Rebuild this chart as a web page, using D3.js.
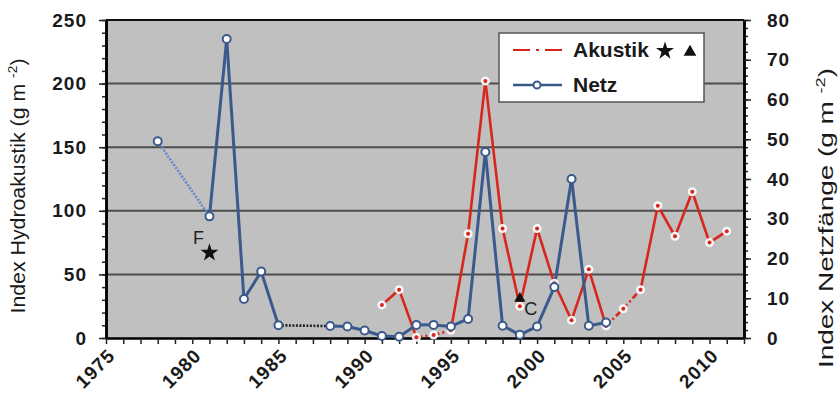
<!DOCTYPE html>
<html>
<head>
<meta charset="utf-8">
<script src="https://cdn.jsdelivr.net/npm/d3@7"></script>
<style>
  body { margin: 0; background: #fff; }
  svg { display: block; }
  text { font-family: "Liberation Sans", Arial, sans-serif; }
</style>
</head>
<body>
<div class="chart"></div>
<script>
// Netz (right axis, g m-2)
const netzYears = [1978, 1981, 1982, 1983, 1984, 1985, 1988, 1989, 1990, 1991, 1992, 1993, 1994, 1995, 1996, 1997, 1998, 1999, 2000, 2001, 2002, 2003, 2004];
const netzValues = [49.5, 30.6, 75.2, 9.8, 16.7, 3.2, 3.0, 2.9, 1.9, 0.5, 0.3, 3.3, 3.3, 2.9, 4.8, 46.8, 3.1, 0.8, 2.9, 12.8, 40.0, 3.1, 3.9];
// segments starting at these years are dotted (gaps in the series)
const netzDottedFrom = [1978, 1985];

// Akustik (left axis, g m-2)
const akustikYears = [1991, 1992, 1993, 1994, 1995, 1996, 1997, 1998, 1999, 2000, 2001, 2002, 2003, 2004, 2005, 2006, 2007, 2008, 2009, 2010, 2011];
const akustikValues = [26, 38, 0.5, 2.4, 6, 82, 202, 86, 25, 86, 43, 14, 54, 9.5, 23, 38, 104, 80, 115, 75, 84];
const akustikDashedFrom = [1993, 1994, 2004, 2005];

// extra markers (left axis)
const starPoint = [1981, 67];
const trianglePoint = [1999, 31];

const leftTicks = [0, 50, 100, 150, 200, 250];
const rightTicks = [0, 10, 20, 30, 40, 50, 60, 70, 80];
const yearLabels = [1975, 1980, 1985, 1990, 1995, 2000, 2005, 2010];

const width = 839, height = 393;
const plotLeft = 106, plotRight = 744, plotTop = 20, plotBottom = 338;
const red = "#d8261c", blue = "#3b5a8c";

const svg = d3.select(".chart").append("svg")
  .attr("width", width)
  .attr("height", height);

const x = d3.scaleLinear().domain([1975, 2012]).range([plotLeft, plotRight]);
const yL = d3.scaleLinear().domain([0, 250]).range([plotBottom, plotTop]);
const yR = d3.scaleLinear().domain([0, 80]).range([plotBottom, plotTop]);

// plot background
svg.append("rect")
  .attr("x", plotLeft).attr("y", plotTop)
  .attr("width", plotRight - plotLeft).attr("height", plotBottom - plotTop)
  .attr("fill", "#c0c0c0");

// grid
svg.append("g").selectAll("line")
  .data(leftTicks.filter(d => d > 0 && d < 250))
  .join("line")
  .attr("x1", plotLeft).attr("x2", plotRight)
  .attr("y1", d => yL(d)).attr("y2", d => yL(d))
  .attr("stroke", "#4d4d4d").attr("stroke-width", 2);

svg.append("line")
  .attr("x1", plotLeft).attr("x2", plotRight)
  .attr("y1", yL(250)).attr("y2", yL(250))
  .attr("stroke", "#111").attr("stroke-width", 2);

// axes
const styleAxis = g => {
  g.select(".domain").attr("stroke", "#000").attr("stroke-width", 2.5);
  g.selectAll(".tick line").attr("stroke", "#222").attr("stroke-width", 1.5);
  g.selectAll(".tick text")
    .attr("fill", "#1a1a1a")
    .attr("font-size", 19)
    .attr("font-weight", "bold")
    .attr("letter-spacing", 1);
};

svg.append("g")
  .attr("transform", `translate(${plotLeft},0)`)
  .call(d3.axisLeft(yL).tickValues(d3.range(0, 251, 10)).tickSize(4).tickSizeOuter(0).tickFormat(""))
  .call(styleAxis);
svg.append("g")
  .attr("transform", `translate(${plotLeft},0)`)
  .call(d3.axisLeft(yL).tickValues(leftTicks).tickSize(7).tickSizeOuter(0).tickPadding(12))
  .call(styleAxis);

svg.append("g")
  .attr("transform", `translate(${plotRight},0)`)
  .call(d3.axisRight(yR).tickValues(d3.range(0, 81, 2)).tickSize(4).tickSizeOuter(0).tickFormat(""))
  .call(styleAxis);
svg.append("g")
  .attr("transform", `translate(${plotRight},0)`)
  .call(d3.axisRight(yR).tickValues(rightTicks).tickSize(7).tickSizeOuter(0).tickPadding(16))
  .call(styleAxis);

const xAxis = svg.append("g")
  .attr("transform", `translate(0,${plotBottom})`)
  .call(d3.axisBottom(x).tickValues(d3.range(1975, 2013)).tickSize(6).tickSizeOuter(0)
    .tickFormat(d => yearLabels.includes(d) ? d : ""))
  .call(styleAxis);
xAxis.selectAll(".tick text")
  .attr("x", 0).attr("y", 0).attr("dy", "0.35em")
  .attr("text-anchor", "end")
  .attr("font-size", 19)
  .attr("transform", "translate(5,14) rotate(-45)");

// axis titles
const leftTitle = svg.append("text")
  .attr("transform", "translate(18,186) rotate(-90)")
  .attr("text-anchor", "middle").attr("dy", "0.35em")
  .attr("font-size", 20).attr("fill", "#1a1a1a")
  .attr("textLength", 255).attr("lengthAdjust", "spacingAndGlyphs");
leftTitle.append("tspan").text("Index Hydroakustik (g m ");
leftTitle.append("tspan").attr("font-size", 13).attr("dy", -8).text("-2");
leftTitle.append("tspan").attr("dy", 8).text(")");

const rightTitle = svg.append("text")
  .attr("transform", "translate(826,218) rotate(-90)")
  .attr("text-anchor", "middle").attr("dy", "0.35em")
  .attr("font-size", 20).attr("fill", "#1a1a1a")
  .attr("textLength", 300).attr("lengthAdjust", "spacingAndGlyphs");
rightTitle.append("tspan").text("Index Netzfänge (g m ");
rightTitle.append("tspan").attr("font-size", 13).attr("dy", -8).text("-2");
rightTitle.append("tspan").attr("dy", 8).text(")");

// series
const netz = netzYears.map((yr, i) => [yr, netzValues[i]]);
const akustik = akustikYears.map((yr, i) => [yr, akustikValues[i]]);

const lineR = d3.line().x(d => x(d[0])).y(d => yR(d[1]));
const lineL = d3.line().x(d => x(d[0])).y(d => yL(d[1]));

// Akustik lines
svg.append("g").selectAll("path")
  .data(d3.pairs(akustik))
  .join("path")
  .attr("d", d => lineL(d))
  .attr("fill", "none")
  .attr("stroke", red)
  .attr("stroke-width", 2.6)
  .attr("stroke-dasharray", d => akustikDashedFrom.includes(d[0][0]) ? "6,3,2,3" : null);

// Netz lines
svg.append("g").selectAll("path")
  .data(d3.pairs(netz))
  .join("path")
  .attr("d", d => lineR(d))
  .attr("fill", "none")
  .attr("stroke", d => {
    if (!netzDottedFrom.includes(d[0][0])) return blue;
    return d[0][0] === netzDottedFrom[0] ? "#5f8ad0" : "#222";
  })
  .attr("stroke-width", d => netzDottedFrom.includes(d[0][0]) ? 2.6 : 3)
  .attr("stroke-dasharray", d => netzDottedFrom.includes(d[0][0]) ? "2,1.5" : null);

// Akustik markers
const aMark = svg.append("g").selectAll("g")
  .data(akustik)
  .join("g")
  .attr("transform", d => `translate(${x(d[0])},${yL(d[1])})`);
aMark.append("circle").attr("r", 4.5).attr("fill", "#fff").attr("fill-opacity", 0.9);
aMark.append("circle").attr("r", 2).attr("fill", red);

// Netz markers
svg.append("g").selectAll("circle")
  .data(netz)
  .join("circle")
  .attr("cx", d => x(d[0]))
  .attr("cy", d => yR(d[1]))
  .attr("r", 4)
  .attr("fill", "#fff")
  .attr("stroke", blue)
  .attr("stroke-width", 2);

// star F and triangle C
svg.append("path")
  .attr("d", d3.symbol(d3.symbolStar).size(100)())
  .attr("transform", `translate(${x(starPoint[0])},${yL(starPoint[1])})`)
  .attr("fill", "#111");
svg.append("text")
  .attr("x", x(starPoint[0]) - 11).attr("y", yL(starPoint[1]) - 15)
  .attr("dy", "0.35em").attr("text-anchor", "middle")
  .attr("font-size", 18).attr("fill", "#222").text("F");

svg.append("path")
  .attr("d", d3.symbol(d3.symbolTriangle).size(55)())
  .attr("transform", `translate(${x(trianglePoint[0])},${yL(trianglePoint[1])})`)
  .attr("fill", "#111");
svg.append("text")
  .attr("x", x(trianglePoint[0]) + 11).attr("y", yL(trianglePoint[1]) + 10)
  .attr("dy", "0.35em").attr("text-anchor", "middle")
  .attr("font-size", 18).attr("fill", "#222").text("C");

// legend
const legend = svg.append("g");
legend.append("rect")
  .attr("x", 499).attr("y", 33).attr("width", 205).attr("height", 69)
  .attr("fill", "#fff").attr("stroke", "#555").attr("stroke-width", 1.5);

legend.append("line")
  .attr("x1", 513).attr("x2", 562).attr("y1", 50).attr("y2", 50)
  .attr("stroke", red).attr("stroke-width", 2.2).attr("stroke-dasharray", "17,6,3,6");
legend.append("text")
  .attr("x", 573).attr("y", 50).attr("dy", "0.35em")
  .attr("font-size", 21).attr("font-weight", "bold").attr("fill", "#1a1a1a")
  .text("Akustik");
legend.append("path")
  .attr("d", d3.symbol(d3.symbolStar).size(100)())
  .attr("transform", "translate(665,51)").attr("fill", "#111");
legend.append("path")
  .attr("d", d3.symbol(d3.symbolTriangle).size(70)())
  .attr("transform", "translate(690,52)").attr("fill", "#111");

legend.append("line")
  .attr("x1", 513).attr("x2", 562).attr("y1", 85).attr("y2", 85)
  .attr("stroke", blue).attr("stroke-width", 2.5);
legend.append("circle")
  .attr("cx", 537).attr("cy", 85).attr("r", 3.5)
  .attr("fill", "#fff").attr("stroke", blue).attr("stroke-width", 2);
legend.append("text")
  .attr("x", 573).attr("y", 85).attr("dy", "0.35em")
  .attr("font-size", 21).attr("font-weight", "bold").attr("fill", "#1a1a1a")
  .text("Netz");
</script>
</body>
</html>
